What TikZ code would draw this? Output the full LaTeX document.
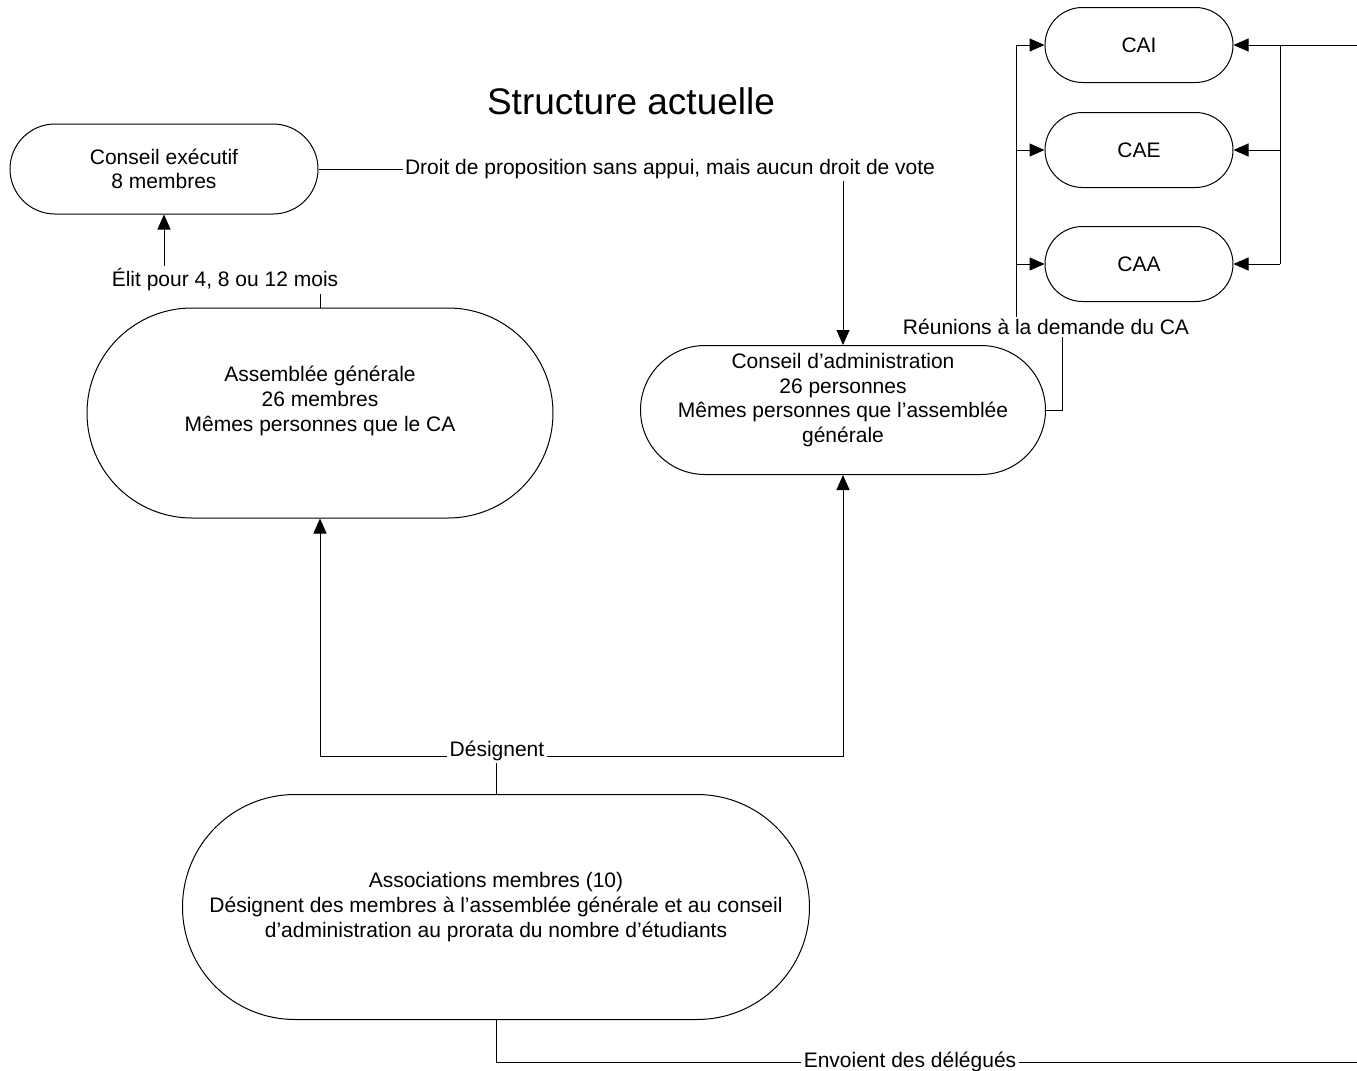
\documentclass[tikz,border=0pt]{standalone}
\usepackage{fontspec}
\setmainfont{Liberation Sans}
\usetikzlibrary{arrows.meta}

\begin{document}
\begin{tikzpicture}[x=0.5pt,y=-0.5pt]
	\tikzstyle{every node}+=[font=\fontsize{10.5}{12.3}\selectfont, align=center]
	\tikzstyle{stadium}=[draw=black, line width=0.5pt, rectangle, inner sep=0pt]
	\tikzstyle{tag}=[inner sep=1pt]
	\tikzstyle{link}=[draw=black, line width=0.5pt]
	\tikzstyle{tip}=[-{Triangle[length=7.5pt,width=6.5pt]}]
	\useasboundingbox (0,0) rectangle (1357,1071);
	\node (title) at (631,101) {\fontsize{18.5}{22}\selectfont Structure actuelle};
	\node [stadium, minimum width=154pt, minimum height=45pt, rounded corners=22.5pt] (ce) at (164,169) {Conseil exécutif\\8 membres};
	\node [stadium, minimum width=233pt, minimum height=105pt, rounded corners=52.5pt] (ag) at (320,413) {Assemblée générale\\26 membres\\Mêmes personnes que le CA\\[2pt]\mbox{}};
	\node [stadium, minimum width=202.5pt, minimum height=64.5pt, rounded corners=32.25pt] (ca) at (843,410) {Conseil d’administration\\26 personnes\\Mêmes personnes que l’assemblée\\générale\\\mbox{}};
	\node [stadium, minimum width=94pt, minimum height=37.5pt, rounded corners=18.75pt] (cai) at (1139,45) {CAI};
	\node [stadium, minimum width=94pt, minimum height=37.5pt, rounded corners=18.75pt] (cae) at (1139,150) {CAE};
	\node [stadium, minimum width=94pt, minimum height=37.5pt, rounded corners=18.75pt] (caa) at (1139,264) {CAA};
	\node [stadium, minimum width=313.5pt, minimum height=112.5pt, rounded corners=56.25pt] (am) at (496,907) {Associations membres (10)\\Désignent des membres à l’assemblée générale et au conseil\\d’administration au prorata du nombre d’étudiants};
	\node [tag] (elit) at (225,280) {Élit pour 4, 8 ou 12 mois};
	\node [tag] (droit) at (670,169) {Droit de proposition sans appui, mais aucun droit de vote};
	\node [tag] (reun) at (1046,327) {Réunions à la demande du CA};
	\node [tag] (desig) at (497,751) {Désignent};
	\node [tag] (envoi) at (910,1062) {Envoient des délégués};
	\coordinate (lb) at (1016,0);
	\coordinate (rb) at (1062,0);
	\coordinate (rt) at (1280,0);
	\coordinate (edge) at (1357,0);
	\draw [link] (ag.north) -- (ag.north |- elit.south);
	\draw [link, tip] (ce.south |- elit.north) -- (ce.south);
	\draw [link] (ce.east) -- (droit.west);
	\draw [link, tip] (ca.north |- droit.south) -- (ca.north);
	\draw [link] (ca.east) -| (reun.south -| rb);
	\draw [link] (reun.north -| lb) -- (lb |- cai.west);
	\draw [link, tip] (lb |- cai.west) -- (cai.west);
	\draw [link, tip] (lb |- cae.west) -- (cae.west);
	\draw [link, tip] (lb |- caa.west) -- (caa.west);
	\draw [link] (edge |- cai.east) -- (rt |- cai.east) -- (rt |- caa.east);
	\draw [link, tip] (rt |- cai.east) -- (cai.east);
	\draw [link, tip] (rt |- cae.east) -- (cae.east);
	\draw [link, tip] (rt |- caa.east) -- (caa.east);
	\draw [link] (am.north) -- (am.north |- desig.south);
	\draw [link, tip] (desig.base west) -| (ag.south);
	\draw [link, tip] (desig.base east) -| (ca.south);
	\draw [link] (am.south) |- (envoi.west);
	\draw [link] (envoi.east) -- (envoi.east -| edge);
\end{tikzpicture}
\end{document}
